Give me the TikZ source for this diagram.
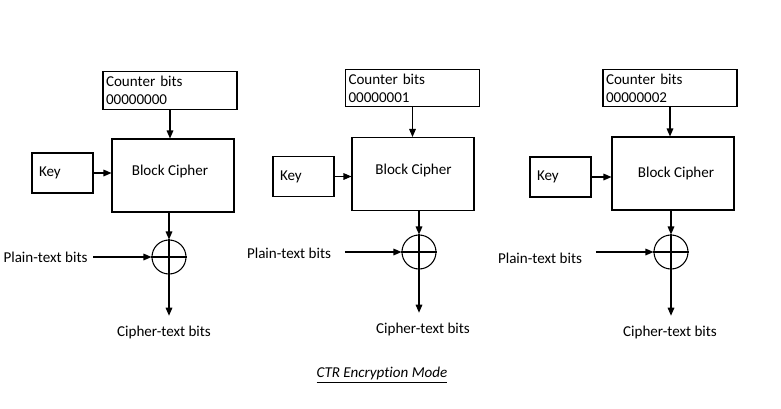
\documentclass[tikz,border=0pt]{standalone}
\usepackage{fontspec}
\setmainfont{Carlito}[Ligatures=NoCommon]
\usetikzlibrary{arrows.meta}

\begin{document}
\begin{tikzpicture}[x=0.75pt,y=-0.75pt,line width=0.8pt,
        font=\fontsize{11.3}{13.5}\selectfont,
        box/.style={draw, rectangle},
        ctrbox/.style={box, minimum width=100.5pt, minimum height=28pt,
            inner xsep=2.25pt, inner ysep=1pt, text width=96pt, align=left},
        cipherbox/.style={box, minimum width=91.5pt, minimum height=54.75pt},
        keybox/.style={box, minimum width=45.75pt, minimum height=30pt,
            inner xsep=5.25pt, text width=35.25pt, align=left},
        xorcirc/.style={draw, circle, minimum size=25.5pt, inner sep=0pt},
        flow/.style={-{Triangle[length=6pt,width=5pt]}},
        plain/.style={inner xsep=4pt},
        cipher/.style={inner ysep=7pt}]
    \useasboundingbox (0,0) rectangle (781,408);

    \node[ctrbox] (cnt1) at (170,90.5) {Counter bits\\00000000};
    \node[cipherbox] (bc1) at (173,175.5) {};
    \node (bc1t) at (170,171) {Block Cipher};
    \node[keybox] (key1) at (62.5,173) {Key};
    \node[xorcirc] (xor1) at (169,257) {};
    \node[plain] (pt1) at (45.5,257) {Plain-text bits};
    \node[cipher] (ct1) at (164,332) {Cipher-text bits};
    \draw [flow] (cnt1.south) -- (cnt1.south |- bc1.north);
    \draw [flow] (key1.east) -- (key1.east -| bc1.west);
    \draw [flow] (bc1.south -| xor1.north) -- (xor1.north);
    \draw (xor1.north) -- (xor1.south) (xor1.west) -- (xor1.east);
    \draw [flow] (pt1.east |- xor1.west) -- (xor1.west);
    \draw [flow] (xor1.south) -- (xor1.south |- ct1.north);

    \node[ctrbox] (cnt2) at (412.5,88) {Counter bits\\00000001};
    \node[cipherbox] (bc2) at (413,174) {};
    \node (bc2t) at (413.5,170) {Block Cipher};
    \node[keybox] (key2) at (303.5,176.5) {Key};
    \node[xorcirc] (xor2) at (419,252) {};
    \node[plain] (pt2) at (289,253) {Plain-text bits};
    \node[cipher] (ct2) at (423,329) {Cipher-text bits};
    \draw [flow] (cnt2.south) -- (cnt2.south |- bc2.north);
    \draw [flow] (key2.east) -- (key2.east -| bc2.west);
    \draw [flow] (bc2.south -| xor2.north) -- (xor2.north);
    \draw (xor2.north) -- (xor2.south) (xor2.west) -- (xor2.east);
    \draw [flow] ([xshift=6pt]pt2.east |- xor2.west) -- (xor2.west);
    \draw [flow] (xor2.south) -- (xor2.south |- ct2.north);

    \node[ctrbox] (cnt3) at (670,88) {Counter bits\\00000002};
    \node[cipherbox] (bc3) at (673,173.5) {};
    \node (bc3t) at (676,173) {Block Cipher};
    \node[keybox] (key3) at (560.5,177) {Key};
    \node[xorcirc] (xor3) at (671,252) {};
    \node[plain] (pt3) at (540,258) {Plain-text bits};
    \node[cipher] (ct3) at (670,332) {Cipher-text bits};
    \draw [flow] (cnt3.south) -- (cnt3.south |- bc3.north);
    \draw [flow] (key3.east) -- (key3.east -| bc3.west);
    \draw [flow] (bc3.south -| xor3.north) -- (xor3.north);
    \draw (xor3.north) -- (xor3.south) (xor3.west) -- (xor3.east);
    \draw [flow] ([xshift=6pt]pt3.east |- xor3.west) -- (xor3.west);
    \draw [flow] (xor3.south) -- (xor3.south |- ct3.north);

    \node (mode) at (382,375) {\underline{\textit{CTR Encryption Mode}}};
\end{tikzpicture}
\end{document}
